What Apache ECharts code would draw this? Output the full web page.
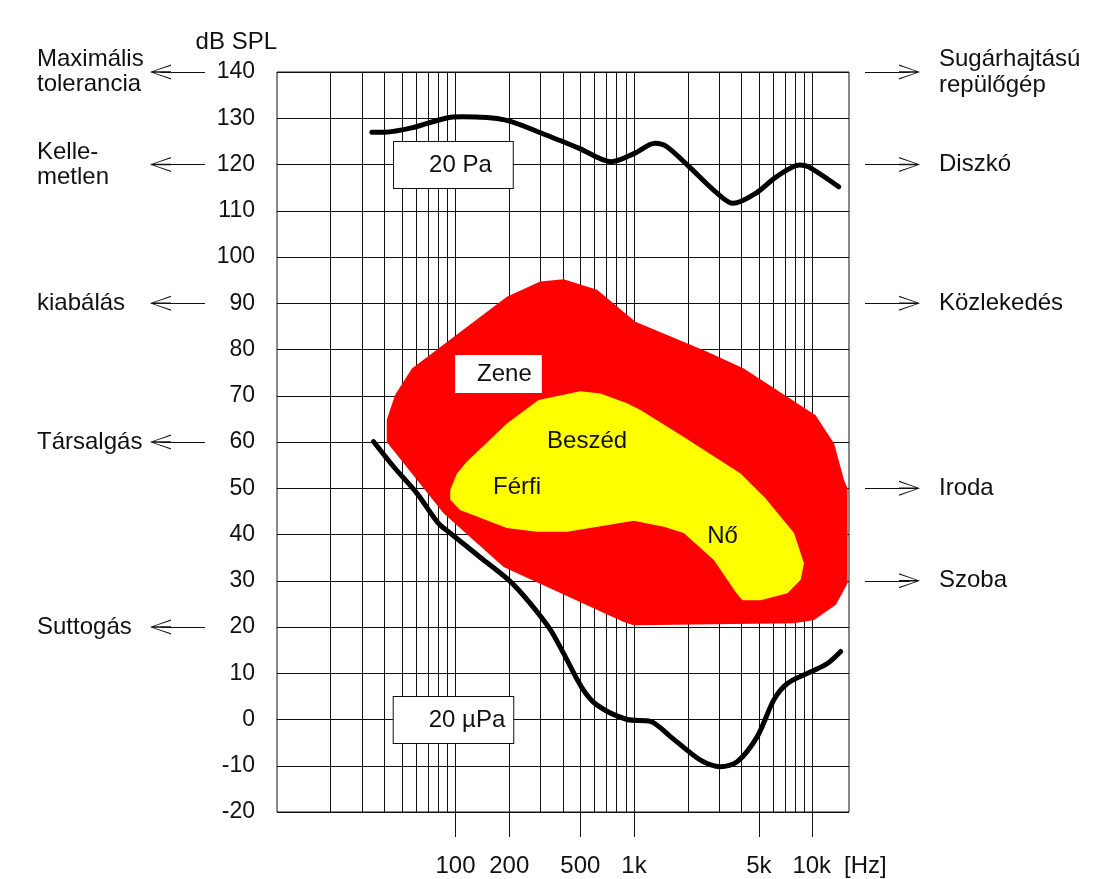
<!DOCTYPE html>
<html><head><meta charset="utf-8">
<script src="https://cdn.jsdelivr.net/npm/echarts@6/dist/echarts.min.js"></script>
<style>html,body{margin:0;padding:0;background:#fff}#c{width:1104px;height:879px}</style>
</head><body><div id="c"></div>
<script>
// ---- data ----
const freqTickValues = [100, 200, 500, 1000, 5000, 10000];
const freqTickLabels = ['100', '200', '500', '1k', '5k', '10k'];
const freqUnit = '[Hz]';
const freqGridLines = [20,30,40,50,60,70,80,90,100,200,300,400,500,600,700,800,900,1000,2000,3000,4000,5000,6000,7000,8000,9000,10000];

const painCurve = [[34,127],[40,127],[58,128],[88,130],[109,130.3],[191,129.6],[306,126.7],[493,123.5],[747,120.6],[1005,122.4],[1310,124.6],[1520,123.9],[2040,119.5],[2920,113.8],[3590,111.6],[4820,113.8],[6290,117.4],[8470,119.9],[9510,119.5],[14000,115.2]];

const hearingCurve = [[34.7,60.1],[44.9,54.7],[60.8,48.9],[80.3,42.4],[93.3,40.3],[143.6,34.5],[203,29.8],[262,25.1],[340,19.4],[403,14.3],[512,6.8],[621,3.1],[914,0],[1236,-0.4],[1600,-3.7],[2357,-8.8],[3050,-10.2],[3790,-9.1],[4900,-3.7],[6080,4.3],[7230,7.8],[9770,10.3],[12100,12.1],[14380,14.7]];

const musicArea = [[41.2,60],[41.2,64.8],[45.9,70.2],[57,75.9],[194,91.4],[298,94.7],[403,95.2],[621,92.9],[1018,86],[2570,79.5],[4120,75.9],[10400,65.8],[13200,59.7],[15000,51.8],[15700,50],[15700,29.5],[15000,28],[13500,24.8],[10200,21.5],[7870,20.8],[996,20.4],[875,21.1],[186,33],[85.7,44.6]];

const speechArea = [[93.4,49.6],[101.8,53.2],[116,55.8],[194,64],[292,69.1],[500,71],[648,70.5],[914,68.4],[1086,66.9],[1900,61.1],[3950,53.2],[5460,47.8],[7870,40.3],[8950,33.8],[8580,30.2],[7230,27.3],[5120,25.8],[4040,25.8],[3700,27.6],[2800,34.5],[1900,40.3],[1470,41.7],[996,43],[422,40.6],[286,40.6],[194,41.4],[106,45.3],[93.4,47.5]];

const leftNoteLevels = [140, 120, 90, 60, 20];
const leftNoteTexts = ['Maximális\ntolerancia', 'Kelle-\nmetlen', 'kiabálás', 'Társalgás', 'Suttogás'];
const rightNoteLevels = [140, 120, 90, 50, 30];
const rightNoteTexts = ['Sugárhajtású\nrepülőgép', 'Diszkó', 'Közlekedés', 'Iroda', 'Szoba'];

const plotNotes = [[97.3,119.9,'20 Pa'],[97.4,-0.1,'20 µPa'],[174,74.7,'Zene'],[546,60.1,'Beszéd'],[221,50.1,'Férfi'],[3130,39.7,'Nő']];

// ---- styling / layout ----
const FONT = "'Liberation Sans', Arial, Helvetica, sans-serif";
const FS = 24;     // words
const FSN = 23;    // y-axis numbers
const INK = '#111';
const noteStyle = {
  '20 Pa':  {backgroundColor:'#fff', borderColor:INK, borderWidth:1, padding:[11,21,11,35]},
  '20 µPa': {backgroundColor:'#fff', borderColor:INK, borderWidth:1, padding:[11,8,11,35]},
  'Zene':   {backgroundColor:'#fff', padding:[7,10,7,22]}
};
const chevron = 'path://M50,0 L100,100 L91,100 L50,9 L9,100 L0,100 Z M45,6 L55,6 L55,100 L45,100 Z';

const chart = echarts.init(document.getElementById('c'), null, {renderer:'canvas'});

function polyItem(points, color) {
  return function (params, api) {
    if (params.dataIndex !== 0) return null;
    return {
      type: 'polygon',
      shape: {points: points.map(p => api.coord(p))},
      style: {fill: color}
    };
  };
}

const arrowData = [];
leftNoteLevels.forEach(v => arrowData.push([{yAxis: v, x: 205}, {yAxis: v, x: 160.5}]));
rightNoteLevels.forEach(v => arrowData.push([{yAxis: v, x: 865}, {yAxis: v, x: 909.5}]));

// tick marks hanging below the plot at the labelled frequencies
const tickData = freqTickValues.map(f => [{coord: [f, -20]}, {xAxis: f, y: 837}]);

const lastIdx = freqTickValues.length - 1;
const labelFmt = v => {
  const i = freqTickValues.indexOf(Math.round(v));
  return i >= 0 ? freqTickLabels[i] : '';
};

const option = {
  animation: false,
  backgroundColor: '#fff',
  textStyle: {fontFamily: FONT, color: INK},
  grid: {left: 277, right: 255, top: 72, bottom: 67, show: true, borderColor: INK, borderWidth: 1, backgroundColor: 'transparent', containLabel: false, outerBoundsMode: 'none'},
  xAxis: [
    {
      type: 'log', logBase: 10, min: 10, max: 16000,
      axisLine: {show: true, lineStyle: {color: INK, width: 1}},
      splitLine: {show: false}, minorTick: {show: false}, axisTick: {show: false},
      axisLabel: {customValues: freqTickValues.slice(0, lastIdx), margin: 42, fontSize: FS, color: INK, fontFamily: FONT, hideOverlap: false,
        formatter: labelFmt}
    },
    {
      type: 'log', logBase: 10, min: 10, max: 16000, position: 'bottom', offset: 0,
      axisLine: {show: false}, splitLine: {show: false}, minorTick: {show: false}, axisTick: {show: false},
      axisLabel: {customValues: freqTickValues.slice(lastIdx), margin: 42, fontSize: FS, color: INK, fontFamily: FONT, hideOverlap: false,
        rich: {sp: {width: 54}, u: {fontSize: FS, color: INK, fontFamily: FONT, padding: [0, 0, 0, 13]}},
        formatter: v => '{sp|}' + labelFmt(v) + '{u|' + freqUnit + '}'}
    }
  ],
  yAxis: [
    {
      type: 'value', min: -20, max: 140, interval: 10,
      name: 'dB SPL', nameLocation: 'end', nameGap: 18,
      nameTextStyle: {fontSize: FS, color: INK, fontFamily: FONT, align: 'right', verticalAlign: 'bottom'},
      axisLine: {show: false}, axisTick: {show: false},
      splitLine: {show: true, lineStyle: {color: INK, width: 1}},
      axisLabel: {fontSize: FSN, color: INK, margin: 22, fontFamily: FONT}
    },
    {
      type: 'value', min: -20, max: 140, interval: 10, position: 'left', offset: 0,
      axisLine: {show: false}, axisTick: {show: false}, splitLine: {show: false},
      axisLabel: {align: 'left', margin: 240, fontSize: FS, lineHeight: 25, color: INK, fontFamily: FONT,
        formatter: v => { const i = leftNoteLevels.indexOf(v); return i >= 0 ? leftNoteTexts[i] : ''; }}
    },
    {
      type: 'value', min: -20, max: 140, interval: 10, position: 'right', offset: 0,
      axisLine: {show: false}, axisTick: {show: false}, splitLine: {show: false},
      axisLabel: {align: 'left', margin: 90, fontSize: FS, lineHeight: 26, color: INK, fontFamily: FONT,
        formatter: v => { const i = rightNoteLevels.indexOf(v); return i >= 0 ? rightNoteTexts[i] : ''; }}
    }
  ],
  series: [
    {
      name: 'gridlines', type: 'scatter', data: [], silent: true,
      markLine: {
        silent: true, z: 1, symbol: ['none', 'none'], label: {show: false},
        lineStyle: {type: 'solid', color: INK, width: 1},
        data: freqGridLines.map(f => ({xAxis: f}))
      }
    },
    {
      name: 'arrows', type: 'scatter', data: [], silent: true,
      markLine: {
        silent: true, z: 1, symbol: ['none', chevron], symbolSize: [15, 21], label: {show: false},
        lineStyle: {type: 'solid', color: INK, width: 1},
        data: arrowData
      }
    },
    {
      name: 'ticks', type: 'scatter', data: [], silent: true,
      markLine: {
        silent: true, z: 1, symbol: ['none', 'none'], label: {show: false},
        lineStyle: {type: 'solid', color: INK, width: 1},
        data: tickData
      }
    },
    {
      name: 'Zene', type: 'custom', z: 2, silent: true, data: musicArea,
      encode: {x: 0, y: 1}, renderItem: polyItem(musicArea, '#ff0000')
    },
    {
      name: 'Beszéd', type: 'custom', z: 2, silent: true, data: speechArea,
      encode: {x: 0, y: 1}, renderItem: polyItem(speechArea, '#ffff00')
    },
    {
      name: 'pain', type: 'line', z: 3, data: painCurve, smooth: 0.3, showSymbol: false, symbol: 'none',
      lineStyle: {color: '#000', width: 5, cap: 'round', join: 'round'}
    },
    {
      name: 'hearing', type: 'line', z: 3, data: hearingCurve, smooth: 0.3, showSymbol: false, symbol: 'none',
      lineStyle: {color: '#000', width: 5, cap: 'round', join: 'round'}
    },
    {
      name: 'notes', type: 'scatter', z: 4, silent: true, symbolSize: 1,
      itemStyle: {color: 'rgba(0,0,0,0)', opacity: 1},
      data: plotNotes.map(n => ({
        value: [n[0], n[1]],
        label: Object.assign({show: true, position: 'inside', formatter: n[2], fontSize: FS, color: INK, fontFamily: FONT, opacity: 1}, noteStyle[n[2]] || {})
      }))
    }
  ]
};
chart.setOption(option);
</script>
</body></html>
